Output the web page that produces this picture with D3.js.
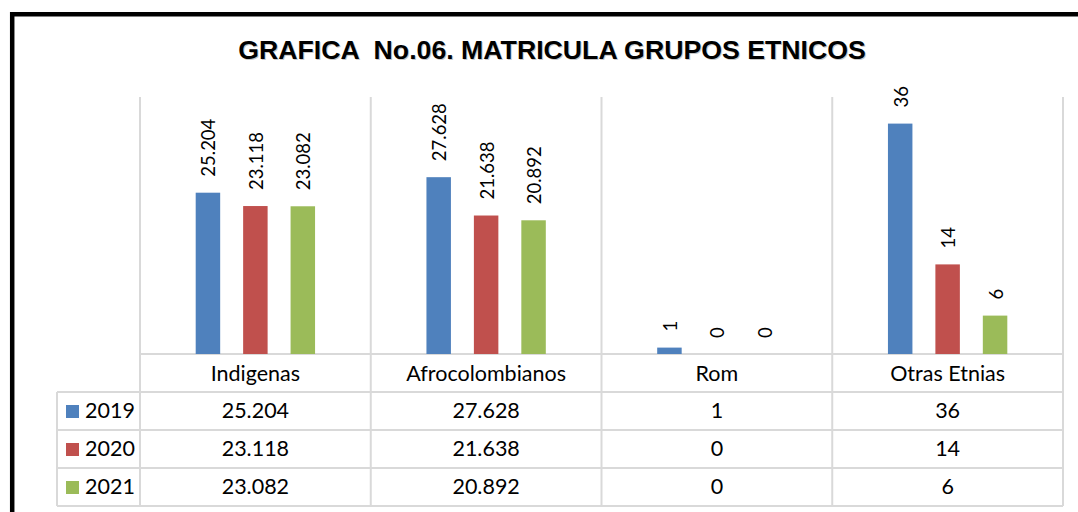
<!DOCTYPE html>
<html>
<head>
<meta charset="utf-8">
<script src="https://cdn.jsdelivr.net/npm/d3@7"></script>
<style>
  body { margin: 0; background: #fff; }
  svg { display: block; }
</style>
</head>
<body>
<div id="chart"></div>
<script>
// data
const categories = ['Indigenas', 'Afrocolombianos', 'Rom', 'Otras Etnias']
const years = ['2019', '2020', '2021']
const values_2019 = [25.204, 27.628, 1, 36]
const values_2020 = [23.118, 21.638, 0, 14]
const values_2021 = [23.082, 20.892, 0, 6]
const y_ticks = [0, 40]

const series_values = [values_2019, values_2020, values_2021]
const colors = ['#4F81BD', '#C0504D', '#9BBB59']

const width = 1078
const height = 512
const plot = { left: 140, right: 1063, top: 98, bottom: 354 }
const legend_left = 57
const row_h = 38
const grid_color = '#d9d9d9'
const font = 'Lato, "Open Sans", sans-serif'

const fmt = v => Number.isInteger(v) ? String(v) : v.toFixed(3)

const svg = d3.select('#chart')
    .append('svg')
    .attr('width', width)
    .attr('height', height)

// outer frame
svg.append('path')
    .attr('d', 'M12.2,' + height + ' V14.3 H' + (width + 5))
    .attr('fill', 'none')
    .attr('stroke', '#000')
    .attr('stroke-width', 4.5)

// title (with soft shadow)
const title = 'GRAFICA  No.06. MATRICULA GRUPOS ETNICOS'
svg.append('text')
    .attr('x', 553)
    .attr('y', 60)
    .attr('text-anchor', 'middle')
    .style('white-space', 'pre')
    .attr('font-family', '"Liberation Sans", Arial, sans-serif')
    .attr('font-weight', 'bold')
    .attr('font-size', '26.7px')
    .attr('fill', '#c8c8c8')
    .text(title)
svg.append('text')
    .attr('x', 552)
    .attr('y', 59)
    .attr('text-anchor', 'middle')
    .style('white-space', 'pre')
    .attr('font-family', '"Liberation Sans", Arial, sans-serif')
    .attr('font-weight', 'bold')
    .attr('font-size', '26.7px')
    .attr('fill', '#000')
    .text(title)

// scales
const x0 = d3.scaleBand()
    .domain(categories)
    .range([plot.left, plot.right])
    .paddingInner(0)

const x1 = d3.scaleBand()
    .domain(years)
    .range([0, x0.bandwidth()])
    .paddingInner(0.484)
    .paddingOuter(1.174)

const y = d3.scaleLinear()
    .domain(d3.extent(y_ticks))
    .range([plot.bottom, plot.top])

const table_bottom = plot.bottom + row_h * (years.length + 1)

// vertical gridlines (category separators, running through the table)
svg.append('g')
    .selectAll('line')
    .data(categories.map(c => x0(c)).concat([plot.right]))
    .enter()
    .append('line')
    .attr('x1', d => d)
    .attr('x2', d => d)
    .attr('y1', plot.top - 1)
    .attr('y2', table_bottom)
    .attr('stroke', grid_color)
    .attr('stroke-width', 2)

// table horizontal lines
svg.append('line')
    .attr('x1', plot.left).attr('x2', plot.right)
    .attr('y1', plot.bottom).attr('y2', plot.bottom)
    .attr('stroke', grid_color).attr('stroke-width', 2)
svg.append('g')
    .selectAll('line')
    .data(d3.range(years.length + 1))
    .enter()
    .append('line')
    .attr('x1', legend_left)
    .attr('x2', plot.right)
    .attr('y1', i => plot.bottom + row_h * (i + 1))
    .attr('y2', i => plot.bottom + row_h * (i + 1))
    .attr('stroke', grid_color)
    .attr('stroke-width', 2)
svg.append('line')
    .attr('x1', legend_left).attr('x2', legend_left)
    .attr('y1', plot.bottom + row_h).attr('y2', table_bottom)
    .attr('stroke', grid_color).attr('stroke-width', 2)

// bars + rotated labels
for (let i = 0; i < years.length; i++) {
    const g = svg.append('g').attr('class', 'bars-' + years[i])
    g.selectAll('rect')
        .data(series_values[i])
        .enter()
        .append('rect')
        .attr('x', (d, c) => x0(categories[c]) + x1(years[i]))
        .attr('y', d => y(d))
        .attr('width', x1.bandwidth())
        .attr('height', d => y(0) - y(d))
        .attr('fill', colors[i])

    g.selectAll('text')
        .data(series_values[i])
        .enter()
        .append('text')
        .attr('transform', (d, c) =>
            'translate(' + (x0(categories[c]) + x1(years[i]) + x1.bandwidth() / 2 + 1) +
            ',' + (y(d) - 16) + ') rotate(-90)')
        .attr('dy', '0.35em')
        .attr('font-family', font)
        .attr('font-size', '18.5px')
        .attr('fill', '#000')
        .text(d => fmt(d))
}

// category labels row
svg.append('g')
    .selectAll('text')
    .data(categories)
    .enter()
    .append('text')
    .attr('x', d => x0(d) + x0.bandwidth() / 2)
    .attr('y', plot.bottom + 26.5)
    .attr('text-anchor', 'middle')
    .attr('font-family', font)
    .attr('font-size', '21.5px')
    .attr('fill', '#000')
    .text(d => d)

// data table rows
for (let i = 0; i < years.length; i++) {
    const top = plot.bottom + row_h * (i + 1)
    svg.append('rect')
        .attr('x', 66)
        .attr('y', top + 13)
        .attr('width', 13)
        .attr('height', 13)
        .attr('fill', colors[i])
    svg.append('text')
        .attr('x', 85)
        .attr('y', top + 26)
        .attr('font-family', font)
        .attr('font-size', '21.5px')
        .attr('fill', '#000')
        .text(years[i])
    svg.append('g')
        .selectAll('text')
        .data(series_values[i])
        .enter()
        .append('text')
        .attr('x', (d, c) => x0(categories[c]) + x0.bandwidth() / 2)
        .attr('y', top + 26)
        .attr('text-anchor', 'middle')
        .attr('font-family', font)
        .attr('font-size', '21.5px')
        .attr('fill', '#000')
        .text(d => fmt(d))
}
</script>
</body>
</html>
